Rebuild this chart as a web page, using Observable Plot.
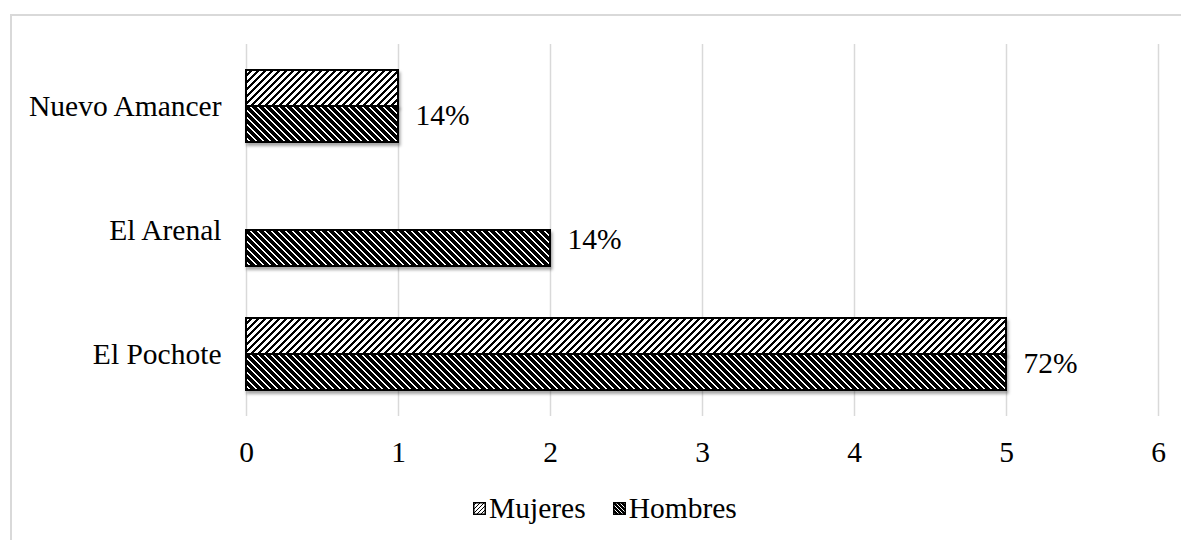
<!DOCTYPE html>
<html><head><meta charset="utf-8">
<script src="https://cdn.jsdelivr.net/npm/d3@7"></script>
<script src="https://cdn.jsdelivr.net/npm/@observablehq/plot@0.6"></script>
<style>
body{margin:0;background:#fff;font-family:"Liberation Serif","Times New Roman",serif;}
#frame{position:absolute;left:10px;top:14px;width:1200px;height:560px;border:2px solid #d9d9d9;box-sizing:border-box;}
#chart{position:absolute;left:0;top:0;}
#legend{position:absolute;left:473px;top:492px;height:32px;display:flex;align-items:center;font-size:29.5px;color:#000;white-space:nowrap;}
#legend .item{display:flex;align-items:center;}
#legend svg{margin-right:3px;}
</style>
</head><body>
<div id="frame"></div>
<div id="chart"></div>
<div id="legend"></div>
<script>
const categories = ["Nuevo Amancer", "El Arenal", "El Pochote"];
const series = ["Mujeres", "Hombres"];
const mujeres = [1, 0, 5];
const hombres = [1, 2, 5];
const pctLabels = ["14%", "14%", "72%"];
const xTicks = [0, 1, 2, 3, 4, 5, 6];

const rowsM = categories.map((c, i) => ({cat: c, serie: "Mujeres", value: mujeres[i]})).filter(d => d.value > 0);
const rowsH = categories.map((c, i) => ({cat: c, serie: "Hombres", value: hombres[i]})).filter(d => d.value > 0);
const labelRows = categories.map((c, i) => ({cat: c, serie: "Hombres", value: hombres[i], label: pctLabels[i]}));

const patternDefs = `
<pattern id="pM" patternUnits="userSpaceOnUse" width="7" height="7">
  <rect width="7" height="7" fill="#fff"/>
  <path d="M-1.75,1.75 l3.5,-3.5 M0,7 l7,-7 M5.25,8.75 l3.5,-3.5" stroke="#000" stroke-width="1.7" shape-rendering="crispEdges"/>
</pattern>
<pattern id="pH" patternUnits="userSpaceOnUse" width="7" height="7">
  <rect width="7" height="7" fill="#fff"/>
  <path d="M-1.75,5.25 l3.5,3.5 M0,0 l7,7 M5.25,-1.75 l3.5,3.5" stroke="#000" stroke-width="2.9" shape-rendering="crispEdges"/>
</pattern>
<filter id="shadow" x="-5%" y="-20%" width="115%" height="160%">
  <feDropShadow dx="1.5" dy="3" stdDeviation="1.5" flood-color="#000" flood-opacity="0.35"/>
</filter>`;

const chart = Plot.plot({
  width: 1181,
  height: 480,
  marginLeft: 246,
  marginRight: 23,
  marginTop: 44,
  marginBottom: 64,
  style: {fontFamily: "'Liberation Serif', 'Times New Roman', serif", fontSize: "29.5px", color: "#000", background: "transparent"},
  x: {domain: [0, 6], ticks: xTicks, tickFormat: d3.format("d"), tickSize: 0, tickPadding: 25, label: null},
  fy: {domain: categories, padding: 0, label: null, tickSize: 0, tickPadding: 25},
  y: {domain: series, paddingInner: 0, paddingOuter: 0.722, axis: null},
  marks: [
    Plot.gridX(xTicks, {stroke: "#d9d9d9", strokeOpacity: 1, strokeWidth: 1.5}),
    Plot.barX(rowsM, {x: "value", y: "serie", fy: "cat", fill: "url(#pM)", stroke: "#000", strokeWidth: 2}),
    Plot.barX(rowsH, {x: "value", y: "serie", fy: "cat", fill: "url(#pH)", stroke: "#000", strokeWidth: 2}),
    Plot.text(labelRows, {x: "value", y: "serie", fy: "cat", text: "label", dx: 17, dy: -9, textAnchor: "start", fill: "#000", fontSize: 29.5})
  ]
});

d3.select(chart).insert("defs", ":first-child").html(patternDefs);
d3.select(chart).selectAll("g[aria-label='bar'] rect").attr("filter", "url(#shadow)");
document.getElementById("chart").appendChild(chart);

const legend = d3.select("#legend");
series.forEach((s, i) => {
  const item = legend.append("div").attr("class", "item").style("margin-right", i === 0 ? "27px" : "0");
  const sw = item.append("svg").attr("width", 13).attr("height", 13);
  sw.append("defs").html(i === 0
    ? `<pattern id="lM" patternUnits="userSpaceOnUse" width="4" height="4"><rect width="4" height="4" fill="#fff"/><path d="M-1,1 l2,-2 M0,4 l4,-4 M3,5 l2,-2" stroke="#000" stroke-width="1.2" shape-rendering="crispEdges"/></pattern>`
    : `<pattern id="lH" patternUnits="userSpaceOnUse" width="4" height="4"><rect width="4" height="4" fill="#fff"/><path d="M-1,3 l2,2 M0,0 l4,4 M3,-1 l2,2" stroke="#000" stroke-width="2" shape-rendering="crispEdges"/></pattern>`);
  sw.append("rect").attr("x", 0.75).attr("y", 0.75).attr("width", 11.5).attr("height", 11.5)
    .attr("fill", i === 0 ? "url(#lM)" : "url(#lH)").attr("stroke", "#000").attr("stroke-width", 1.5);
  item.append("span").text(s);
});
</script>
</body></html>
